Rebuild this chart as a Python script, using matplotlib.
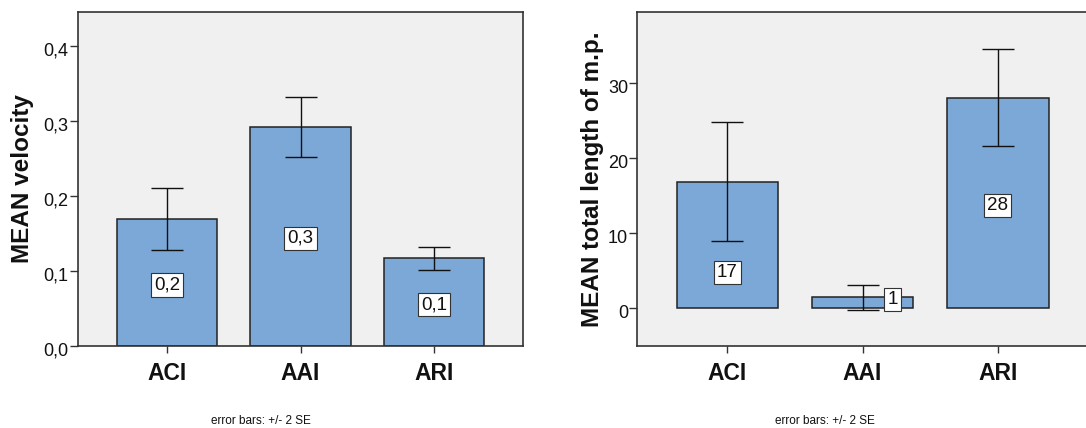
import matplotlib
matplotlib.use("Agg")
import matplotlib.pyplot as plt
from matplotlib.transforms import ScaledTranslation

CATEGORIES = ["ACI", "AAI", "ARI"]

# means and +/- 2 SE half-widths
VELOCITY_MEAN = [0.169, 0.292, 0.1165]
VELOCITY_ERR = [0.041, 0.040, 0.015]
LENGTH_MEAN = [16.9, 1.47, 28.1]
LENGTH_ERR = [8.0, 1.66, 6.5]

VELOCITY_TICKS = [0.0, 0.1, 0.2, 0.3, 0.4]
LENGTH_TICKS = [0, 10, 20, 30]

BAR_FILL = "#7ba8d6"
PANEL_BG = "#f0f0f0"
INK = "#111111"
EDGE = "#222222"

plt.rcParams["font.family"] = ["Liberation Sans", "DejaVu Sans"]

W, H = 1086, 428
fig = plt.figure(figsize=(W / 100, H / 100), dpi=100)


def comma(v, nd):
    return f"{v:.{nd}f}".replace(".", ",")


def panel(rect, means, errs, ticks, tick_fmt, ylim, ylabel, label_x,
          value_fmt, label_offsets):
    ax = fig.add_axes(rect)
    ax.set_facecolor(PANEL_BG)
    x = list(range(len(CATEGORIES)))
    ax.bar(x, means, 0.753, color=BAR_FILL, edgecolor=EDGE, lw=1.1, zorder=2)
    ax.errorbar(x, means, yerr=errs, fmt="none", ecolor=INK, elinewidth=1.0,
                capsize=11.4, capthick=1.0, zorder=3)
    for i, m in enumerate(means):
        dx, dy = label_offsets[i]
        ax.annotate(value_fmt(m), (i, m / 2), xytext=(dx, dy),
                    textcoords="offset points", ha="center", va="center",
                    fontsize=13.5, color=INK, zorder=4,
                    bbox=dict(boxstyle="square,pad=0.17", fc="white",
                              ec="#333333", lw=0.8))
    ax.set_xlim(-0.667, 2.667)
    ax.set_ylim(*ylim)
    ax.set_xticks(x)
    ax.set_xticklabels(CATEGORIES, fontsize=16.5, fontweight="bold", color=INK)
    ax.set_yticks(ticks)
    ax.set_yticklabels([tick_fmt(t) for t in ticks], fontsize=13, color=INK)
    ax.tick_params(axis="y", length=5.5, width=1.0, color="#333333", pad=1.2)
    ax.tick_params(axis="x", length=5, width=1.0, color="#333333", pad=6.5)
    # value labels on the y axis sit slightly under their ticks
    shift = ScaledTranslation(0, -3 / 100, fig.dpi_scale_trans)
    for lab in ax.get_yticklabels():
        lab.set_transform(lab.get_transform() + shift)
    for s in ax.spines.values():
        s.set_color("#333333")
        s.set_linewidth(1.2)
    ax.set_ylabel(ylabel, fontsize=17.5, fontweight="bold", color=INK)
    ax.yaxis.set_label_coords(label_x, 0.5)
    return ax


bottom = (H - 345.7) / H
height = 333.4 / H

panel([77.7 / W, bottom, 445.6 / W, height], VELOCITY_MEAN, VELOCITY_ERR,
      VELOCITY_TICKS, lambda t: comma(t, 1), (0, 0.4445), "MEAN velocity",
      -0.098, lambda v: comma(v, 1),
      [(0, -1.8), (0, -1.6), (0, -2.0)])

panel([637.3 / W, bottom, 450.5 / W, height], LENGTH_MEAN, LENGTH_ERR,
      LENGTH_TICKS, lambda t: f"{t:d}", (-5, 39.47),
      "MEAN total length of m.p.", -0.073, lambda v: f"{v:.0f}",
      [(0, -20), (21.6, 2.2), (0, -1.7)])

fig.text(260.7 / W, 1 - 420.7 / H, "error bars: +/- 2 SE", fontsize=8.5,
         ha="center", va="center", color=INK)
fig.text(825 / W, 1 - 420.7 / H, "error bars: +/- 2 SE", fontsize=8.5,
         ha="center", va="center", color=INK)

fig.savefig("out.png", dpi=100, facecolor="white")
